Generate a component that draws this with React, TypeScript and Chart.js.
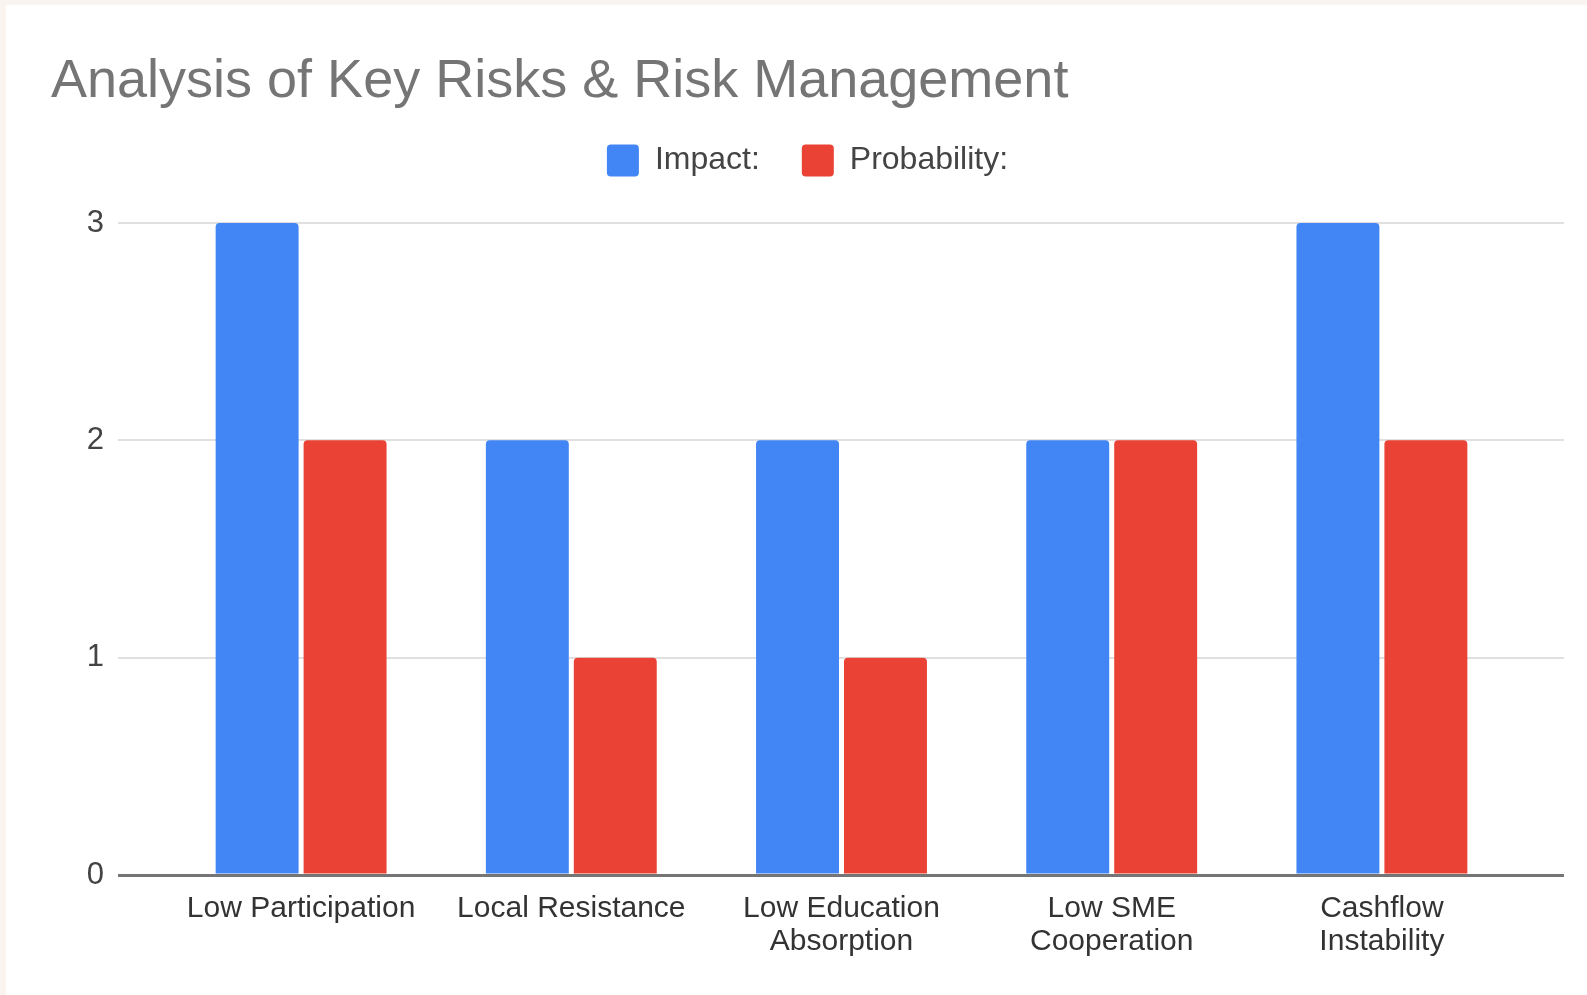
import React, { useEffect, useRef } from "react";
import { Chart, registerables } from "chart.js";

Chart.register(...registerables);

const categories: (string | string[])[] = [
  "Low Participation",
  "Local Resistance",
  ["Low Education", "Absorption"],
  ["Low SME", "Cooperation"],
  ["Cashflow", "Instability"],
];
const impactValues = [3, 2, 2, 2, 3];
const probabilityValues = [2, 1, 1, 2, 2];
const yTicks = [0, 1, 2, 3];
const seriesNames = ["Impact:", "Probability:"];
const titleText = "Analysis of Key Risks & Risk Management";

const FONT = "'Liberation Sans', Arial, Helvetica, sans-serif";
const BLUE = "#4285F4";
const RED = "#EA4335";
const GRID = "#e0e0e0";
const ZERO = "#757575";

export default function App() {
  const ref = useRef<HTMLCanvasElement | null>(null);

  useEffect(() => {
    if (!ref.current) return;
    const gridColor = (ctx: any) => (ctx.tick && ctx.tick.value === 0 ? ZERO : GRID);
    const gridWidth = (ctx: any) => (ctx.tick && ctx.tick.value === 0 ? 3 : 2);
    const chart = new Chart(ref.current, {
      type: "bar",
      data: {
        labels: categories,
        datasets: [
          {
            label: seriesNames[0],
            data: impactValues,
            backgroundColor: BLUE,
            borderRadius: { topLeft: 4, topRight: 4, bottomLeft: 0, bottomRight: 0 },
            borderSkipped: "bottom",
            categoryPercentage: 0.651,
            barPercentage: 0.943,
          },
          {
            label: seriesNames[1],
            data: probabilityValues,
            backgroundColor: RED,
            borderRadius: { topLeft: 4, topRight: 4, bottomLeft: 0, bottomRight: 0 },
            borderSkipped: "bottom",
            categoryPercentage: 0.651,
            barPercentage: 0.943,
          },
        ],
      },
      options: {
        animation: false,
        responsive: false,
        maintainAspectRatio: false,
        layout: { padding: { left: 45, right: 23, top: 0, bottom: 20 } },
        plugins: {
          title: {
            display: true,
            text: titleText,
            align: "start",
            color: "#757575",
            font: { family: FONT, size: 54, weight: "normal", lineHeight: 0.75 },
            padding: { top: 57, bottom: 0 },
          },
          legend: {
            display: true,
            position: "top",
            align: "center",
            labels: {
              boxWidth: 32,
              boxHeight: 32,
              useBorderRadius: true,
              borderRadius: 4,
              padding: 42,
              color: "#444444",
              font: { family: FONT, size: 32 },
            },
          },
          tooltip: { enabled: false },
        },
        scales: {
          x: {
            grid: { display: false, drawTicks: false },
            border: { display: false },
            ticks: {
              color: "#333333",
              font: { family: FONT, size: 30, lineHeight: 1.1 },
              padding: 17,
              maxRotation: 0,
              autoSkip: false,
            },
          },
          xTop: {
            type: "category",
            position: "top",
            grid: {
              display: true,
              drawOnChartArea: false,
              drawTicks: true,
              tickLength: 36.5,
              color: "rgba(0,0,0,0)",
              tickColor: "rgba(0,0,0,0)",
            },
            border: { display: false },
            ticks: { display: false },
          },
          y: {
            min: 0,
            max: 3,
            position: "left",
            afterBuildTicks: (s: any) => {
              s.ticks = yTicks.map((v) => ({ value: v }));
            },
            afterFit: (s: any) => {
              s.width = 115;
            },
            grid: {
              color: gridColor,
              tickColor: gridColor,
              lineWidth: gridWidth,
              drawTicks: true,
              tickLength: 48,
            },
            border: { display: false },
            ticks: {
              color: "#444444",
              font: { family: FONT, size: 31 },
              padding: 14,
            },
          },
          yRight: {
            type: "linear",
            min: 0,
            max: 3,
            position: "right",
            afterBuildTicks: (s: any) => {
              s.ticks = yTicks.map((v) => ({ value: v }));
            },
            afterFit: (s: any) => {
              s.width = 47;
            },
            grid: {
              drawOnChartArea: false,
              color: gridColor,
              tickColor: gridColor,
              lineWidth: gridWidth,
              drawTicks: true,
              tickLength: 47,
            },
            border: { display: false },
            ticks: { display: false },
          },
        },
      } as any,
    });
    return () => chart.destroy();
  }, []);

  return (
    <div
      style={{
        position: "fixed",
        left: 0,
        top: 0,
        width: 1587,
        height: 995,
        background: "#f9f4f0",
      }}
    >
      <div
        style={{
          position: "absolute",
          left: 6,
          top: 5,
          width: 1581,
          height: 990,
          background: "#ffffff",
        }}
      >
        <canvas ref={ref} width={1581} height={990} style={{ display: "block" }} />
      </div>
    </div>
  );
}
